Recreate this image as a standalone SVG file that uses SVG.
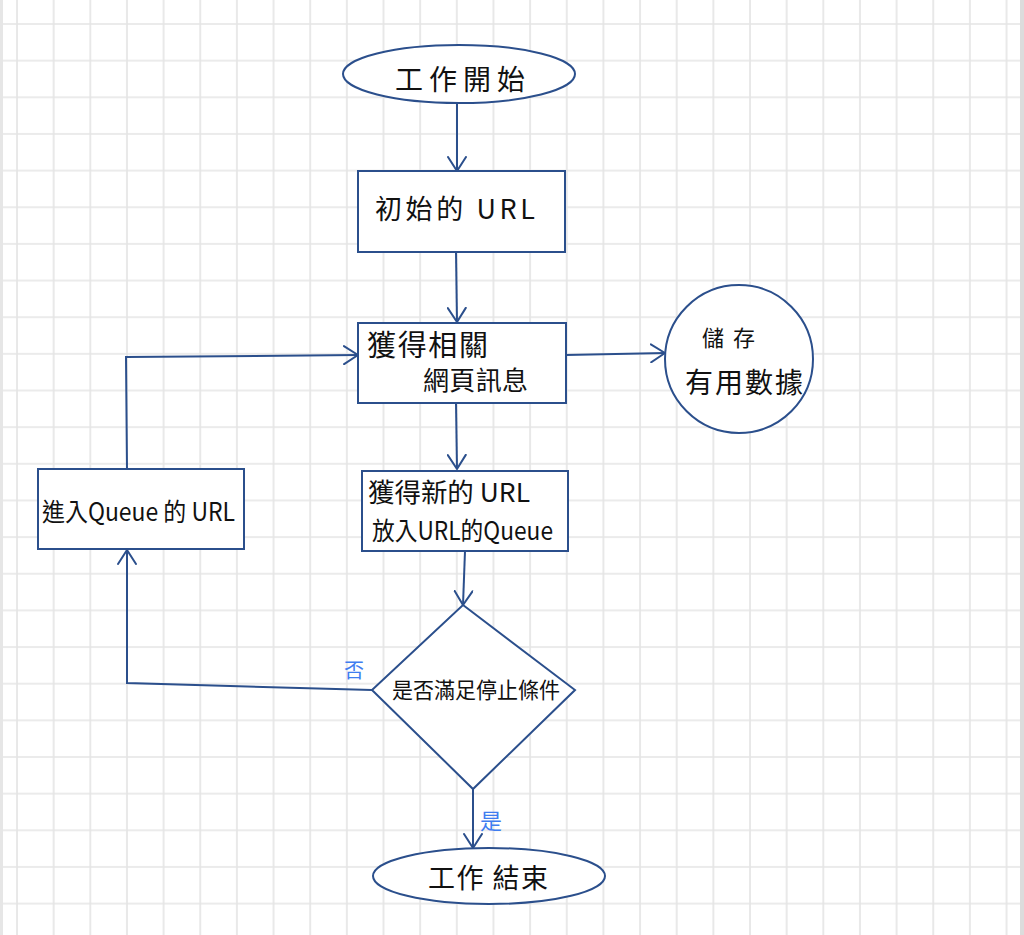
<svg xmlns="http://www.w3.org/2000/svg" width="1024" height="935" viewBox="0 0 1024 935">
  <defs>
    <pattern id="grid" patternUnits="userSpaceOnUse" x="16" y="23" width="36.65" height="36.65">
      <path d="M1,0 V36.65 M0,1 H36.65" fill="none" stroke="#e5e5e5" stroke-width="1.7"/>
    </pattern>
    <marker id="arrow" viewBox="0 0 16 20" refX="15" refY="10" markerWidth="16" markerHeight="20" markerUnits="userSpaceOnUse" orient="auto">
      <path d="M1,1 L15,10 L1,19" fill="none" stroke="#2b4f8c" stroke-width="2" stroke-linecap="round" stroke-linejoin="round"/>
    </marker>
  </defs>
  <style>
    .shape { fill: #ffffff; stroke: #2b4f8c; stroke-width: 2; }
    .conn { fill: none; stroke: #2b4f8c; stroke-width: 2; marker-end: url(#arrow); }
    .t { font-family: "Noto Sans CJK TC", "Noto Sans CJK SC", sans-serif; fill: #111111; font-weight: 400; }
    .lbl { font-family: "Noto Sans CJK TC", "Noto Sans CJK SC", sans-serif; fill: #3f7df0; }
  </style>
  <rect x="0" y="0" width="1024" height="935" fill="#ffffff"/>
  <rect x="0" y="0" width="1024" height="935" fill="url(#grid)"/>
  <rect x="0" y="0" width="3" height="935" fill="#e6e6e6"/>
  <rect x="1020" y="0" width="4" height="935" fill="#dcdcdc"/>

  <g id="connectors">
    <path class="conn" d="M457,104 L457,171"/>
    <path class="conn" d="M456,252 L457,322"/>
    <path class="conn" d="M566,355 L665,353"/>
    <path class="conn" d="M456,403 L457,469"/>
    <path class="conn" d="M465,551 L463,605"/>
    <path class="conn" d="M473,789 L473,848"/>
    <path class="conn" d="M372,690 L127,683 L127,550"/>
    <path class="conn" d="M127,469 L126,357 L358,355"/>
  </g>

  <g id="start">
    <ellipse class="shape" cx="459" cy="74" rx="116" ry="29"/>
    <text class="t" x="395" y="90" font-size="28" textLength="130" lengthAdjust="spacing">工作開始</text>
  </g>

  <g id="initial-url">
    <rect class="shape" x="358" y="171" width="207" height="81"/>
    <text class="t" x="375" y="219" font-size="27" textLength="160" lengthAdjust="spacing">初始的 URL</text>
  </g>

  <g id="fetch-page">
    <rect class="shape" x="358" y="323" width="208" height="80"/>
    <text class="t" x="367" y="356" font-size="29" textLength="121" lengthAdjust="spacing">獲得相關</text>
    <text class="t" x="423" y="390" font-size="26" textLength="105" lengthAdjust="spacing">網頁訊息</text>
  </g>

  <g id="store-data">
    <circle class="shape" cx="739" cy="359" r="74"/>
    <text class="t" x="702" y="346" font-size="22" textLength="53" lengthAdjust="spacing">儲存</text>
    <text class="t" x="685" y="393" font-size="28" textLength="118" lengthAdjust="spacing">有用數據</text>
  </g>

  <g id="new-url">
    <rect class="shape" x="362" y="471" width="206" height="80"/>
    <text class="t" x="368" y="502" font-size="26" textLength="162" lengthAdjust="spacingAndGlyphs">獲得新的 URL</text>
    <text class="t" x="372" y="540" font-size="25" textLength="181" lengthAdjust="spacingAndGlyphs">放入URL的Queue</text>
  </g>

  <g id="queue-url">
    <rect class="shape" x="38" y="469" width="206" height="80"/>
    <text class="t" x="42" y="521" font-size="25" textLength="193" lengthAdjust="spacingAndGlyphs">進入Queue 的 URL</text>
  </g>

  <g id="decision">
    <polygon class="shape" points="463,605 575,690 473,789 372,690"/>
    <text class="t" x="392" y="698" font-size="22" textLength="168" lengthAdjust="spacingAndGlyphs">是否滿足停止條件</text>
  </g>

  <g id="end">
    <ellipse class="shape" cx="489" cy="876" rx="116" ry="28"/>
    <text class="t" x="428" y="888" font-size="27" textLength="120" lengthAdjust="spacing">工作 結束</text>
  </g>

  <g id="labels">
    <text class="lbl" x="344" y="678" font-size="20">否</text>
    <text class="lbl" x="480" y="829" font-size="22">是</text>
  </g>
</svg>
